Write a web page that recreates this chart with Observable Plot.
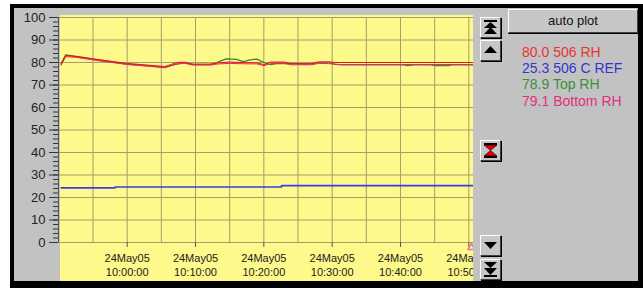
<!DOCTYPE html>
<html><head><meta charset="utf-8">
<script src="https://cdn.jsdelivr.net/npm/d3@7"></script>
<script src="https://cdn.jsdelivr.net/npm/@observablehq/plot@0.6"></script>
<style>
body{margin:0;background:#fff;width:643px;height:288px;overflow:hidden;font-family:"Liberation Sans",Arial,sans-serif;}
#frame{position:absolute;left:10px;top:4px;width:633px;height:284px;box-sizing:border-box;border-style:solid;border-color:#000;border-width:4px 5px 7px 4px;background:#c2c2c2;}
#chart{position:absolute;left:0;top:0;}
.btn{position:absolute;left:466px;width:21px;height:21px;box-sizing:border-box;background:#c6c6c6;border:1px solid;border-color:#fff #404040 #404040 #fff;box-shadow:1px 1px 0 #000;}
.btn svg{position:absolute;left:0;top:0;}
#auto{position:absolute;left:494px;top:1px;width:130px;height:24px;box-sizing:border-box;background:#c6c6c6;border:1px solid;border-color:#fff #404040 #404040 #fff;box-shadow:0 1px 0 #000;font-size:13px;line-height:21px;text-align:center;color:#111;}
#legend{position:absolute;left:508px;top:36px;font-size:14px;line-height:16.2px;}
</style>
</head><body>
<div id="frame">
  <div id="chart"></div>
  <div class="btn" style="top:9px"><svg width="19" height="19"><rect x="3" y="2" width="13" height="2" fill="#000"/><polygon points="9.5,4 3,10 16,10" fill="#000"/><polygon points="9.5,9 3,16 16,16" fill="#000"/></svg></div>
  <div class="btn" style="top:32px"><svg width="19" height="19"><polygon points="9.5,5 3,12 16,12" fill="#000"/></svg></div>
  <div class="btn" style="top:132px"><svg width="19" height="19"><rect x="3" y="2" width="13" height="2" fill="#000"/><polygon points="3,4 16,4 9.5,9.5" fill="#e00000" stroke="#000" stroke-width="0.6"/><polygon points="9.5,9.5 3,15 16,15" fill="#e00000" stroke="#000" stroke-width="0.6"/><rect x="3" y="15" width="13" height="2" fill="#000"/></svg></div>
  <div class="btn" style="top:227px"><svg width="19" height="19"><polygon points="3,6 16,6 9.5,13" fill="#000"/></svg></div>
  <div class="btn" style="top:251px"><svg width="19" height="19"><polygon points="3,2 16,2 9.5,8" fill="#000"/><polygon points="3,8 16,8 9.5,15" fill="#000"/><rect x="3" y="15" width="13" height="2" fill="#000"/></svg></div>
  <div id="auto">auto plot</div>
  <div id="legend"></div>
</div>
<script>
// ---- data ----
const day = [2005, 4, 24];
const xDomainTimes = ["09:49:57", "10:50:41"];
const yTicks = [0, 10, 20, 30, 40, 50, 60, 70, 80, 90, 100];
const yMinorTicks = d3.range(0, 101, 2);
const labelTimes = ["10:00:00", "10:10:00", "10:20:00", "10:30:00", "10:40:00", "10:50:00"];
const gridTimes = ["09:55:00", "10:00:00", "10:05:00", "10:10:00", "10:15:00", "10:20:00", "10:25:00", "10:30:00", "10:35:00", "10:40:00", "10:45:00", "10:50:00"];
const dateLabel = "24May05";

const seriesNames = ["506 RH", "506 C REF", "Top RH", "Bottom RH"];
const seriesColors = ["#f01010", "#3a3aee", "#2e8b2e", "#f0206e"];
const legendColors = ["#e83535", "#3535d0", "#3a903a", "#e0307e"];
const lastValues = ["80.0", "25.3", "78.9", "79.1"];

const rh506 = [
  ["09:50:20", 79.2], ["09:51:00", 83.1], ["09:52:30", 82.7], ["09:54:00", 82.1],
  ["09:56:00", 81.2], ["09:58:00", 80.4], ["10:00:00", 79.6], ["10:02:00", 79.1],
  ["10:04:00", 78.6], ["10:05:30", 78.2], ["10:06:30", 79.2], ["10:07:30", 80.1],
  ["10:08:30", 80.1], ["10:09:30", 79.3], ["10:12:00", 79.3], ["10:13:30", 79.9],
  ["10:15:00", 80.2], ["10:17:30", 79.9], ["10:19:00", 79.9], ["10:20:00", 79.0],
  ["10:21:00", 80.2], ["10:23:00", 80.2], ["10:24:00", 79.5], ["10:27:00", 79.5],
  ["10:28:00", 80.3], ["10:29:30", 80.3], ["10:30:30", 80.0], ["10:50:41", 80.0]
];
const cref506 = [
  ["09:50:20", 24.3], ["09:58:15", 24.7], ["10:22:35", 25.3], ["10:50:41", 25.3]
];
const topRH = [
  ["09:50:20", 79.5], ["09:51:00", 83.4], ["09:53:00", 82.5], ["09:55:00", 81.5],
  ["09:57:00", 80.6], ["10:00:00", 79.3], ["10:02:00", 78.8], ["10:04:00", 78.3],
  ["10:05:30", 77.9], ["10:07:00", 79.2], ["10:08:30", 79.8], ["10:10:00", 79.0],
  ["10:12:30", 79.0], ["10:13:30", 80.5], ["10:14:30", 81.6], ["10:16:00", 81.4],
  ["10:17:00", 80.4], ["10:18:00", 81.2], ["10:19:00", 81.5], ["10:20:00", 80.0],
  ["10:21:00", 79.0], ["10:22:00", 79.6], ["10:24:00", 79.5], ["10:26:30", 79.3],
  ["10:28:00", 79.9], ["10:29:30", 79.9], ["10:30:30", 79.2], ["10:31:30", 78.9],
  ["10:40:30", 78.9], ["10:41:00", 78.6], ["10:42:00", 78.9], ["10:44:30", 78.9],
  ["10:45:00", 78.6], ["10:47:00", 78.6], ["10:47:30", 78.9], ["10:50:41", 78.9]
];
const bottomRH = [
  ["09:50:20", 78.8], ["09:51:00", 82.6], ["09:52:30", 82.3], ["09:54:00", 81.6],
  ["09:56:00", 80.7], ["09:58:00", 79.9], ["10:00:00", 79.1], ["10:02:00", 78.6],
  ["10:04:00", 78.1], ["10:05:30", 77.6], ["10:06:30", 78.6], ["10:07:30", 79.5],
  ["10:08:30", 79.6], ["10:09:30", 78.9], ["10:12:00", 78.9], ["10:13:30", 79.4],
  ["10:15:00", 79.6], ["10:17:30", 79.4], ["10:19:00", 79.4], ["10:20:00", 78.6],
  ["10:21:00", 79.5], ["10:23:00", 79.6], ["10:24:00", 79.0], ["10:27:00", 79.0],
  ["10:28:00", 79.6], ["10:29:30", 79.5], ["10:31:00", 79.1], ["10:50:41", 79.1]
];
const markerTimes = ["10:50:41"];

// ---- helpers ----
const T = (s) => { const [h, m, sec] = s.split(":").map(Number); return new Date(Date.UTC(day[0], day[1], day[2], h, m, sec)); };
const rows = (arr) => arr.map(([t, v]) => ({t: T(t), v}));
const pad = (n) => String(n).padStart(2, "0");
const fmt = (d) => `${dateLabel}\n${pad(d.getUTCHours())}:${pad(d.getUTCMinutes())}:${pad(d.getUTCSeconds())}`;

const legend = document.getElementById("legend");
seriesNames.forEach((name, i) => {
  const div = document.createElement("div");
  div.textContent = `${lastValues[i]} ${name}`;
  div.style.color = legendColors[i];
  legend.appendChild(div);
});

const gridColor = "#a29e70";
const yellow = (index, scales, values, dims) => {
  const r = document.createElementNS("http://www.w3.org/2000/svg", "rect");
  r.setAttribute("x", dims.marginLeft + 2);
  r.setAttribute("y", dims.marginTop - 2);
  r.setAttribute("width", dims.width - dims.marginLeft - dims.marginRight - 2);
  r.setAttribute("height", dims.height - dims.marginTop + 2);
  r.setAttribute("fill", "#fdf98a");
  return r;
};

const chart = Plot.plot({
  width: 459,
  height: 273,
  marginLeft: 44,
  marginRight: 0,
  marginTop: 9,
  marginBottom: 39,
  style: {background: "transparent", overflow: "hidden", fontFamily: "'Liberation Sans', Arial, sans-serif", color: "#222"},
  x: {type: "utc", domain: xDomainTimes.map(T), axis: null},
  y: {domain: [0, 100], axis: null},
  marks: [
    yellow,
    Plot.gridY(yTicks, {stroke: gridColor, strokeOpacity: 1}),
    Plot.gridX(gridTimes.map(T), {stroke: gridColor, strokeOpacity: 1}),
    Plot.ruleX([T(xDomainTimes[0])], {stroke: "#555"}),
    Plot.axisY(yMinorTicks, {anchor: "left", label: null, tickSize: 5, tickFormat: () => "", stroke: "#333"}),
    Plot.axisY(yTicks, {anchor: "left", label: null, tickSize: 9, tickPadding: 4, fontSize: 13, stroke: "#333", color: "#222"}),
    Plot.axisX(labelTimes.map(T), {anchor: "bottom", label: null, tickSize: 5, tickPadding: 4, fontSize: 11, lineHeight: 1.3, tickFormat: fmt, stroke: "#555", color: "#222"}),
    Plot.line(rows(cref506), {x: "t", y: "v", stroke: seriesColors[1], strokeWidth: 1.6, curve: "step-after"}),
    Plot.line(rows(topRH), {x: "t", y: "v", stroke: seriesColors[2], strokeWidth: 1.2}),
    Plot.line(rows(bottomRH), {x: "t", y: "v", stroke: seriesColors[3], strokeWidth: 1}),
    Plot.line(rows(rh506), {x: "t", y: "v", stroke: seriesColors[0], strokeWidth: 1}),
    Plot.dot(markerTimes.map(T), {x: d => d, y: () => 0, symbol: "triangle", r: 2.5, stroke: "#e8709a", fill: "none", dy: 5, dx: -2})
  ]
});
document.getElementById("chart").appendChild(chart);
</script>
</body></html>
